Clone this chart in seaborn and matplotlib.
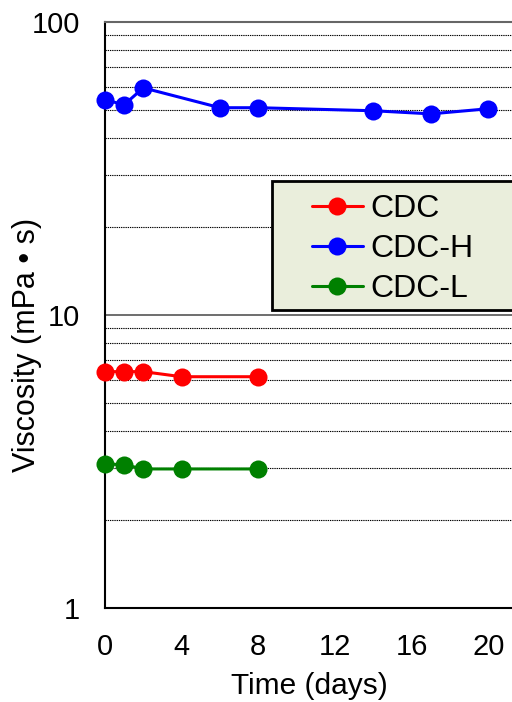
import matplotlib
matplotlib.use("Agg")
import matplotlib.pyplot as plt
from matplotlib.ticker import LogLocator, FixedLocator, NullFormatter
from matplotlib.patches import Rectangle
import seaborn as sns
import pandas as pd

# Viscosity over storage time for three formulations
days_cdc = [0, 1, 2, 4, 8]
visc_cdc = [6.4, 6.4, 6.4, 6.15, 6.15]

days_cdc_h = [0, 1, 2, 6, 8, 14, 17, 20]
visc_cdc_h = [54.2, 52.1, 59.5, 50.9, 50.9, 49.7, 48.5, 50.5]

days_cdc_l = [0, 1, 2, 4, 8]
visc_cdc_l = [3.10, 3.08, 2.98, 2.98, 2.98]

series_names = ["CDC", "CDC-H", "CDC-L"]
series_colors = ["#ff0000", "#0000ff", "#008000"]

x_ticks = [0, 4, 8, 12, 16, 20]
y_ticks = [1, 10, 100]

frames = []
for name, d, v in [("CDC", days_cdc, visc_cdc),
                   ("CDC-H", days_cdc_h, visc_cdc_h),
                   ("CDC-L", days_cdc_l, visc_cdc_l)]:
    frames.append(pd.DataFrame({"Time": d, "Viscosity": v, "Sample": name}))
df = pd.concat(frames, ignore_index=True)

sns.set_theme(style="white")
plt.rcParams["font.family"] = ["Liberation Sans", "DejaVu Sans"]
for key in ["text.color", "axes.labelcolor", "xtick.color", "ytick.color"]:
    plt.rcParams[key] = "black"

fig = plt.figure(figsize=(5.12, 7.02), dpi=100)
ax = fig.add_axes([0.205, 0.134, 0.80, 0.835])

# Log axis with dotted minor grid and a solid line at the 10 decade
ax.set_yscale("log")
ax.set_ylim(1, 100)
ax.set_xlim(0, 21.36)
ax.yaxis.set_minor_locator(LogLocator(base=10, subs=range(2, 10)))
ax.yaxis.set_minor_formatter(NullFormatter())
ax.grid(which="minor", axis="y", color="black", linestyle=(0, (1.2, 0.8)), linewidth=0.8)
ax.axhline(10, color="#555555", linewidth=1.2, zorder=1)

sns.lineplot(data=df, x="Time", y="Viscosity", hue="Sample",
             hue_order=series_names, palette=series_colors,
             marker="o", markersize=13, markeredgewidth=0,
             linewidth=2.2, ax=ax, estimator=None, sort=False,
             clip_on=False, zorder=3)

ax.xaxis.set_major_locator(FixedLocator(x_ticks))
ax.set_yticks(y_ticks)
ax.set_yticklabels([str(t) for t in y_ticks])
ax.tick_params(axis="x", which="major", direction="in", length=7, width=1,
               color="black", labelsize=21, pad=18)
ax.tick_params(axis="y", which="both", length=0, labelsize=21, pad=18)

for side in ["left", "bottom"]:
    ax.spines[side].set_color("black")
    ax.spines[side].set_linewidth(1.5)
ax.spines["top"].set_color("#666666")
ax.spines["top"].set_linewidth(1.5)
ax.spines["right"].set_visible(False)

ax.set_xlabel("Time (days)", fontsize=21.5)
ax.xaxis.set_label_coords(0.5, -0.133)
ax.xaxis.label.set_va("center")
ax.set_ylabel("Viscosity (mPa • s)", fontsize=22)
ax.yaxis.set_label_coords(-0.19, 0.449)
ax.yaxis.label.set_va("center")

# Legend box that runs past the right edge of the figure
box = Rectangle((0.408, 0.5085), 0.7, 0.2202, transform=ax.transAxes,
                facecolor="#eaeedc", edgecolor="black", linewidth=2,
                clip_on=False, zorder=4)
ax.add_patch(box)

handles, labels = ax.get_legend_handles_labels()
leg = ax.legend(handles, labels, loc="upper left",
                bbox_to_anchor=(0.505, 0.706), fontsize=23,
                frameon=False, borderpad=0, borderaxespad=0,
                handlelength=1.6, handletextpad=0.22, labelspacing=0.31)
leg.set_zorder(5)

fig.savefig("out.png", dpi=100)
